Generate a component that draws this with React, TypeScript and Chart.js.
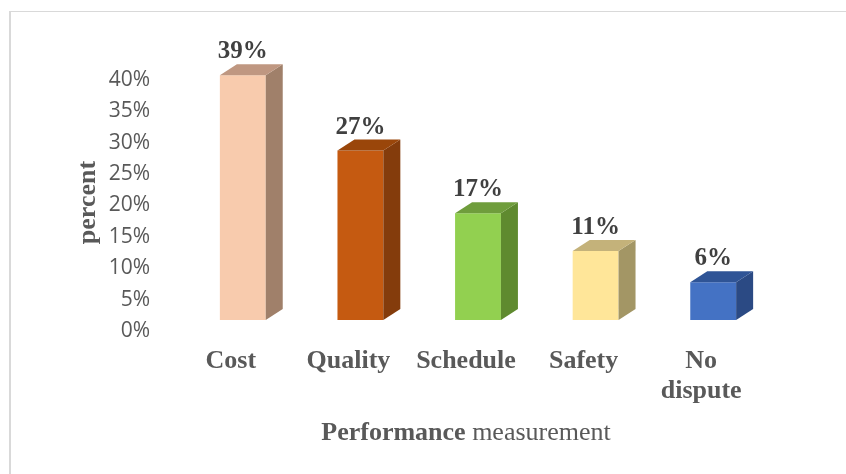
import React, { useEffect, useRef } from "react";
import { Chart, registerables } from "chart.js";

Chart.register(...registerables);

// Share of disputes by performance measurement (percent)
const categories = ["Cost", "Quality", "Schedule", "Safety", "No dispute"];
const values = [39, 27, 17, 11, 6];
const yTicks = [0, 5, 10, 15, 20, 25, 30, 35, 40];

// Front, side and top face colours of each block
const frontColors = ["#F8CBAD", "#C55A11", "#92D050", "#FFE699", "#4472C4"];
const sideColors = ["#A0806A", "#843C0C", "#5F8A2F", "#A39665", "#2B4A84"];
const topColors = ["#BF9781", "#9A460A", "#6F9D3C", "#C4B27A", "#2F5496"];

const SERIF = '"Liberation Serif", "Times New Roman", serif';
const SANS = '"Open Sans", "Liberation Sans", sans-serif';

// Depth of the extruded faces, in pixels
const DEPTH_X = 17;
const DEPTH_Y = 11;

const blockPlugin = {
  id: "blocks3d",
  afterDatasetsDraw(chart: any) {
    const ctx = chart.ctx;
    const meta = chart.getDatasetMeta(0);
    ctx.save();
    meta.data.forEach((bar: any, i: number) => {
      const { x, y, base, width } = bar.getProps(["x", "y", "base", "width"], true);
      const l = x - width / 2;
      const r = x + width / 2;
      // right side face
      ctx.fillStyle = sideColors[i];
      ctx.beginPath();
      ctx.moveTo(r, y);
      ctx.lineTo(r + DEPTH_X, y - DEPTH_Y);
      ctx.lineTo(r + DEPTH_X, base - DEPTH_Y);
      ctx.lineTo(r, base);
      ctx.closePath();
      ctx.fill();
      // top face
      ctx.fillStyle = topColors[i];
      ctx.beginPath();
      ctx.moveTo(l, y);
      ctx.lineTo(l + DEPTH_X, y - DEPTH_Y);
      ctx.lineTo(r + DEPTH_X, y - DEPTH_Y);
      ctx.lineTo(r, y);
      ctx.closePath();
      ctx.fill();
      // value label
      ctx.fillStyle = "#404040";
      ctx.font = `bold 25px ${SERIF}`;
      ctx.textAlign = "center";
      ctx.textBaseline = "alphabetic";
      ctx.fillText(`${values[i]}%`, x, y - DEPTH_Y - 6);
    });
    ctx.restore();
  },
};

const titlesPlugin = {
  id: "axisTitles",
  afterDraw(chart: any) {
    const ctx = chart.ctx;
    const area = chart.chartArea;
    ctx.save();
    ctx.fillStyle = "#595959";
    // vertical axis title
    ctx.save();
    ctx.translate(area.left - 96, (area.top + area.bottom) / 2 + 8);
    ctx.rotate(-Math.PI / 2);
    ctx.font = `bold 26px ${SERIF}`;
    ctx.textAlign = "center";
    ctx.textBaseline = "middle";
    ctx.fillText("percent", 0, 0);
    ctx.restore();
    // horizontal axis title: bold first word, regular second
    const boldPart = "Performance";
    const plainPart = " measurement";
    ctx.font = `bold 26px ${SERIF}`;
    const wBold = ctx.measureText(boldPart).width;
    ctx.font = `26px ${SERIF}`;
    const wPlain = ctx.measureText(plainPart).width;
    const cx = (area.left + area.right) / 2 - 12;
    const startX = cx - (wBold + wPlain) / 2;
    const baseY = area.bottom + 120;
    ctx.textAlign = "left";
    ctx.textBaseline = "alphabetic";
    ctx.font = `bold 26px ${SERIF}`;
    ctx.fillText(boldPart, startX, baseY);
    ctx.font = `26px ${SERIF}`;
    ctx.fillText(plainPart, startX + wBold, baseY);
    ctx.restore();
  },
};

export default function App() {
  const canvasRef = useRef<HTMLCanvasElement | null>(null);

  useEffect(() => {
    if (!canvasRef.current) return;
    const chart = new Chart(canvasRef.current, {
      type: "bar",
      data: {
        labels: categories,
        datasets: [
          {
            data: values,
            backgroundColor: frontColors,
            borderWidth: 0,
            categoryPercentage: 1,
            barPercentage: 0.39,
          },
        ],
      },
      options: {
        responsive: false,
        animation: false,
        events: [],
        layout: { padding: { left: 0, top: 69, right: 74, bottom: 0 } },
        plugins: {
          legend: { display: false },
          tooltip: { enabled: false },
          title: { display: false },
        },
        scales: {
          x: {
            grid: { display: false, drawTicks: false },
            border: { display: false },
            afterFit: (scale: any) => {
              scale.height = 154;
            },
            ticks: {
              padding: 26,
              labelOffset: -12,
              maxRotation: 0,
              autoSkip: false,
              color: "#595959",
              font: { family: SERIF, size: 26, weight: "bold", lineHeight: 1.15 },
              callback: (_v: any, i: number) => {
                const c = categories[i];
                return c.includes(" ") ? c.split(" ") : c;
              },
            },
          },
          y: {
            min: yTicks[0],
            max: yTicks[yTicks.length - 1],
            grid: { display: false, drawTicks: false },
            border: { display: false },
            afterFit: (scale: any) => {
              scale.width = 184;
            },
            afterBuildTicks: (scale: any) => {
              scale.ticks = yTicks.map((v) => ({ value: v }));
            },
            ticks: {
              padding: 34,
              labelOffset: 11,
              color: "#595959",
              font: { family: SANS, size: 21 },
              callback: (v: any) => `${v}%`,
            },
          },
        },
      },
      plugins: [blockPlugin, titlesPlugin],
    });
    return () => chart.destroy();
  }, []);

  return (
    <div
      style={{
        position: "fixed",
        left: 0,
        top: 0,
        width: 846,
        height: 474,
        background: "#ffffff",
        overflow: "hidden",
      }}
    >
      <div
        style={{
          position: "absolute",
          left: 9,
          top: 11,
          width: 900,
          height: 500,
          borderTop: "1px solid #d9d9d9",
          borderLeft: "2px solid #d9d9d9",
        }}
      />
      <canvas
        ref={canvasRef}
        width={846}
        height={474}
        style={{ position: "absolute", left: 0, top: 0 }}
      />
    </div>
  );
}
